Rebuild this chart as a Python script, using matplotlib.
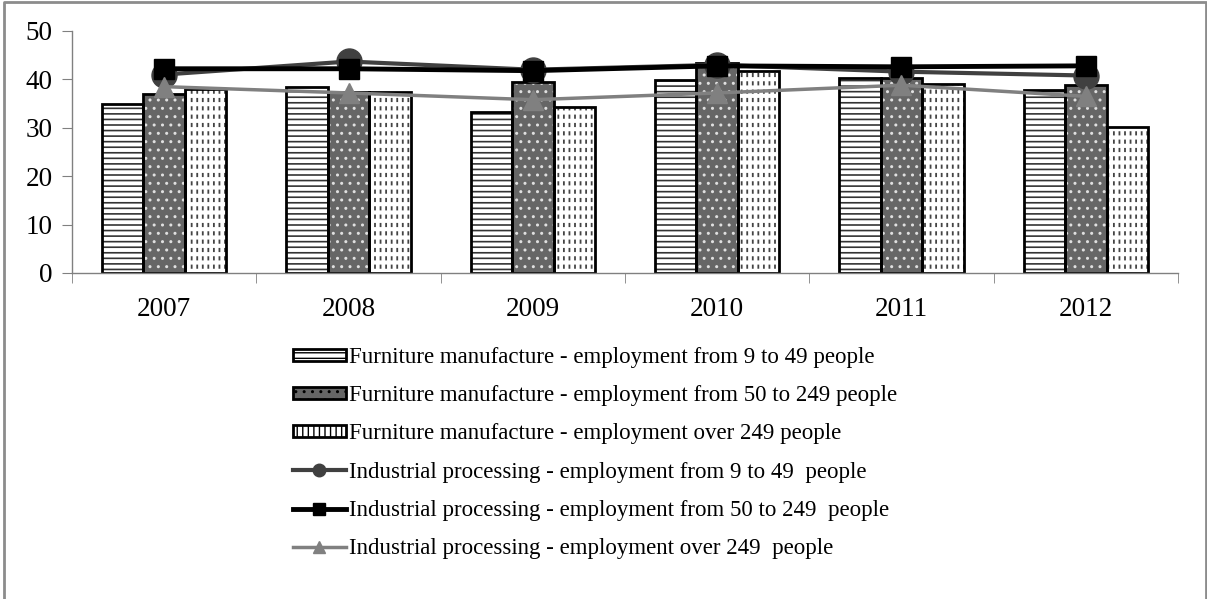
import matplotlib
matplotlib.use("Agg")
import matplotlib.pyplot as plt
import numpy as np
from matplotlib.lines import Line2D
from matplotlib.patches import Patch

years = ["2007", "2008", "2009", "2010", "2011", "2012"]
furn_small = [35.0, 38.4, 33.2, 39.9, 40.2, 37.8]
furn_medium = [37.0, 37.5, 39.5, 43.4, 40.2, 38.8]
furn_large = [38.0, 37.5, 34.2, 41.8, 39.0, 30.2]
ind_small = [41.0, 43.7, 42.0, 43.0, 41.6, 40.8]
ind_medium = [42.2, 42.2, 41.8, 42.8, 42.6, 42.8]
ind_large = [38.5, 37.2, 35.8, 37.2, 38.8, 36.5]

labels = [
    "Furniture manufacture - employment from 9 to 49 people",
    "Furniture manufacture - employment from 50 to 249 people",
    "Furniture manufacture - employment over 249 people",
    "Industrial processing - employment from 9 to 49  people",
    "Industrial processing - employment from 50 to 249  people",
    "Industrial processing - employment over 249  people",
]

plt.rcParams['font.family'] = ['Liberation Serif', 'DejaVu Serif']

fig = plt.figure(figsize=(12.07, 5.99), dpi=100)
ax = fig.add_axes([72/1207, 1-273/599, (1178-72)/1207, (273-31)/599])

x = np.arange(len(years))
w = 0.225

# bar 1: horizontal lines
plt.rcParams['hatch.linewidth'] = 1.2
ax.bar(x - w, furn_small, w, facecolor='white', edgecolor='#333333',
       hatch='---', linewidth=0, zorder=2)
ax.bar(x - w, furn_small, w, facecolor='none', edgecolor='black',
       linewidth=2, zorder=2.2)
# bar 2: dark gray with white dots
plt.rcParams['hatch.linewidth'] = 1.0
ax.bar(x, furn_medium, w, facecolor='#666666', edgecolor='#e0e0e0',
       hatch='..', linewidth=0, zorder=2)
ax.bar(x, furn_medium, w, facecolor='none', edgecolor='black',
       linewidth=2, zorder=2.2)
# bar 3: white with vertical dashes
plt.rcParams['hatch.linewidth'] = 1.3
ax.bar(x + w, furn_large, w, facecolor='white', edgecolor='#444444',
       hatch='|||', linewidth=0, zorder=2)
plt.rcParams['hatch.linewidth'] = 3.0
ax.bar(x + w, furn_large, w, facecolor='none', edgecolor='white',
       hatch='--', linewidth=0, zorder=2.1)
ax.bar(x + w, furn_large, w, facecolor='none', edgecolor='black',
       linewidth=2, zorder=2.2)
plt.rcParams['hatch.linewidth'] = 1.0

ax.plot(x, ind_small, color='#404040', lw=3, marker='o', ms=18, zorder=3)
ax.plot(x, ind_medium, color='black', lw=3.5, marker='s', ms=15, zorder=4)
ax.plot(x, ind_large, color='#808080', lw=2.5, marker='^', ms=15, zorder=5)

ax.set_xlim(-0.5, len(years) - 0.5)
ax.set_ylim(0, 50)
ax.set_yticks([0, 10, 20, 30, 40, 50])
ax.set_xticks(x)
ax.set_xticklabels(years)
ax.set_xticks(np.arange(len(years) + 1) - 0.5, minor=True)
ax.tick_params(axis='x', which='major', length=0, pad=17, labelsize=19.5)
ax.tick_params(axis='x', which='minor', length=7, color='#808080')
ax.tick_params(axis='y', length=7, color='#808080', labelsize=19.5, pad=7)
for s in ['top', 'right']:
    ax.spines[s].set_visible(False)
for s in ['left', 'bottom']:
    ax.spines[s].set_color('#808080')
    ax.spines[s].set_linewidth(1)

# legend handles
h1 = Patch(facecolor='white', edgecolor='black', hatch='---', linewidth=2)
h2 = Patch(facecolor='#666666', edgecolor='black', hatch='..', linewidth=2)
h3 = Patch(facecolor='white', edgecolor='black', hatch='|||', linewidth=2)
hl1 = Line2D([], [], color='#404040', lw=3, marker='o', ms=9)
hl2 = Line2D([], [], color='black', lw=3.5, marker='s', ms=9)
hl3 = Line2D([], [], color='#808080', lw=2.5, marker='^', ms=9)
fig.legend([h1, h2, h3, hl1, hl2, hl3], labels,
           loc='upper left', bbox_to_anchor=(293/1207, 1-347/599),
           frameon=False, fontsize=16.5, handlelength=2.3, handleheight=0.45,
           handletextpad=0.15, labelspacing=0.75, borderaxespad=0, borderpad=0)

# outer frame (left, top, right)
fig.add_artist(Line2D([4/1207, 4/1207, 1206/1207, 1206/1207], [0, 1-2/599, 1-2/599, 0],
                      transform=fig.transFigure, color='#8c8c8c', lw=2))

fig.savefig('out.png', dpi=100)
